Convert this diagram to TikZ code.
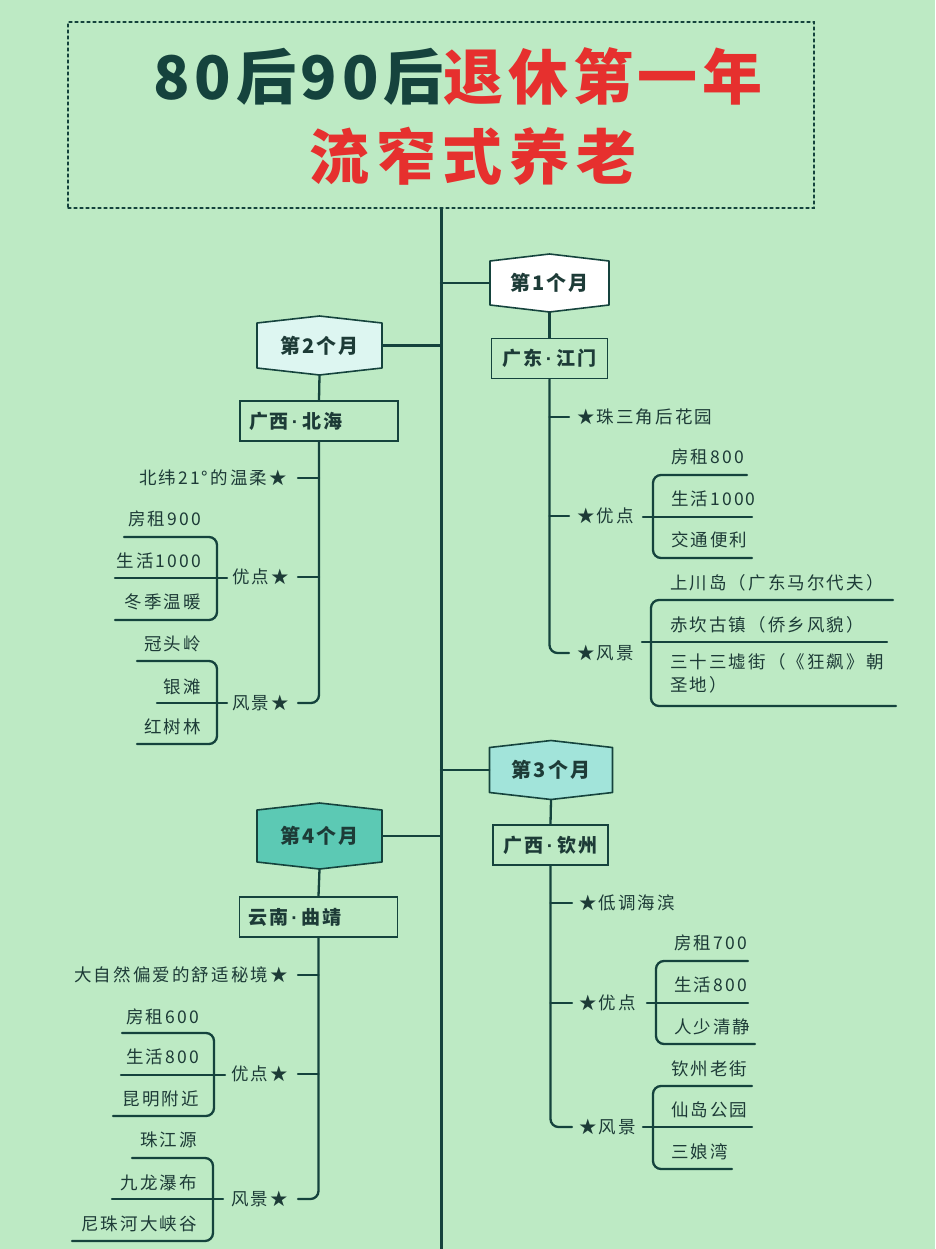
\documentclass[tikz,border=0pt]{standalone}
\usepackage{fontspec}
\usetikzlibrary{calc}
\setmainfont{Noto Sans CJK SC}
\newfontfamily\cjk{Noto Sans CJK SC}[LetterSpace=12]
\newfontfamily\cjkm{Noto Sans CJK SC}[LetterSpace=10]
\newfontfamily\cjkt{Noto Sans CJK SC}[LetterSpace=8]
\newfontfamily\cjktt{Noto Sans CJK SC}[LetterSpace=11]
\newfontfamily\latinf{Liberation Sans}
\newcommand\mdot{{\latinf\bfseries\hspace{3pt}·\hspace{4pt}}}
\definecolor{bg}{HTML}{BDEAC4}
\definecolor{ink}{HTML}{15433D}
\definecolor{txt}{HTML}{1D3B37}
\definecolor{tred}{HTML}{E6302E}
\definecolor{mA}{HTML}{FFFFFF}
\definecolor{mB}{HTML}{DDF6F1}
\definecolor{mC}{HTML}{A2E4DA}
\definecolor{mD}{HTML}{5CC9B4}
\newcommand\mhex[7]{%
  \filldraw[fill=#6, draw=ink, line width=1.6pt, line join=round]
    ({#2-#4/2},{#3-#5/2}) -- (#2,{#3-#5/2-7}) -- ({#2+#4/2},{#3-#5/2}) --
    ({#2+#4/2},{#3+#5/2}) -- (#2,{#3+#5/2+7}) -- ({#2-#4/2},{#3+#5/2}) -- cycle;
  \node[month, minimum width=#4, minimum height=#5] (#1) at (#2,#3) {#7};}
\begin{document}
\begin{tikzpicture}[x=1pt,y=-1pt, line cap=round,
  ln/.style={draw=ink, line width=2.3pt},
  item/.style={text=txt, font=\cjk\fontsize{17.5}{21}\selectfont, inner sep=0pt},
  lbl/.style={text=txt, font=\cjk\fontsize{17.5}{21}\selectfont, inner sep=0pt},
  place/.style={draw=ink, line width=1.8pt, fill=bg, minimum height=40, font=\cjkm\bfseries\fontsize{19}{22}\selectfont, text=txt},
  month/.style={font=\cjkm\bfseries\fontsize{20}{24}\selectfont, text=txt, inner sep=0pt}
]
\fill[bg] (0,0) rectangle (935,1249);
\useasboundingbox (0,0) rectangle (935,1249);

% title
\node[draw=ink, dashed, line width=1.3pt, minimum width=746, minimum height=186, inner sep=0pt] (title) at (441,115) {};
\node[font=\cjkt\bfseries\fontsize{60}{64}\selectfont, inner sep=0pt] (t1) at (458,76) {\textcolor{ink}{80后90后}\textcolor{tred}{退休第一年}};
\node[font=\cjktt\bfseries\fontsize{60}{64}\selectfont, text=tred, inner sep=0pt] (t2) at (473,156) {流窄式养老};

% main spine
\coordinate (bot) at (441,1249);
\draw[draw=ink, line width=3pt, line cap=butt] (title.south) -- (bot);

% months
\mhex{m1}{549.5}{283}{119}{44}{mA}{第1个月}
\mhex{m2}{319.5}{345.5}{125}{45}{mB}{第2个月}
\mhex{m3}{551}{770}{123}{45}{mC}{第3个月}
\mhex{m4}{319.5}{836}{125}{52}{mD}{第4个月}
\draw[ln] (m1.west) -- (m1.west -| title.south);
\draw[ln] (m2.east) -- (m2.east -| title.south);
\draw[ln] (m3.west) -- (m3.west -| title.south);
\draw[ln] (m4.east) -- (m4.east -| title.south);

% places
\node[place, minimum width=116] (p1) at (549.5,358.5) {广东\mdot 江门};
\node[place, minimum width=158, text width=140, inner xsep=9, align=left] (p2) at (319,421) {广西\mdot 北海};
\node[place, minimum width=115] (p3) at (550.5,845) {广西\mdot 钦州};
\node[place, minimum width=158, text width=140, inner xsep=9, align=left] (p4) at (318.5,917) {云南\mdot 曲靖};
\draw[ln] ($(m1.south)+(0,7)$) -- (p1.north);
\draw[ln] ($(m2.south)+(0,7)$) -- (p2.north);
\draw[ln] ($(m3.south)+(0,7)$) -- (p3.north);
\draw[ln] ($(m4.south)+(0,7)$) -- (p4.north);

% ---------- branch 1 (right, 江门)
\draw[ln, rounded corners=8] (p1.south) |- (569,653);
\draw[ln] (549.5,417) -- (569,417);
\draw[ln] (549.5,516) -- (569,516);
\node[lbl, anchor=west] (a1) at (577,417) {★珠三角后花园};
\node[lbl, anchor=west] (a2) at (577,516) {★优点};
\node[lbl, anchor=west] (a3) at (577,653) {★风景};
\draw[ln, rounded corners=8] (747,475) -- (653,475) -- (653,558) -- (752,558);
\draw[ln] (643,517) -- (752,517);
\node[item, anchor=west] (a21) at (671,457) {房租800};
\node[item, anchor=west] (a22) at (671,499) {生活1000};
\node[item, anchor=west] (a23) at (671,540) {交通便利};
\draw[ln, rounded corners=8] (893,600) -- (651,600) -- (651,706) -- (896,706);
\draw[ln] (642,642) -- (887,642);
\node[item, anchor=west] (a31) at (670,583) {上川岛（广东马尔代夫）};
\node[item, anchor=west] (a32) at (670,625) {赤坎古镇（侨乡风貌）};
\node[item, anchor=north west, align=left] (a33) at (670,653) {三十三墟街（《狂飙》朝\\[2pt]圣地）};

% ---------- branch 3 (right, 钦州)
\draw[ln, rounded corners=8] (p3.south) |- (572,1127);
\draw[ln] (550.5,903) -- (572,903);
\draw[ln] (550.5,1003) -- (572,1003);
\node[lbl, anchor=west] (c1) at (579,903) {★低调海滨};
\node[lbl, anchor=west] (c2) at (579,1003) {★优点};
\node[lbl, anchor=west] (c3) at (579,1127) {★风景};
\draw[ln, rounded corners=8] (748,961) -- (656,961) -- (656,1044) -- (755,1044);
\draw[ln] (647,1003) -- (748,1003);
\node[item, anchor=west] (c21) at (674,943) {房租700};
\node[item, anchor=west] (c22) at (674,985) {生活800};
\node[item, anchor=west] (c23) at (674,1027) {人少清静};
\draw[ln, rounded corners=8] (752,1086) -- (653,1086) -- (653,1169) -- (732,1169);
\draw[ln] (643,1127) -- (752,1127);
\node[item, anchor=west] (c31) at (671,1069) {钦州老街};
\node[item, anchor=west] (c32) at (671,1110) {仙岛公园};
\node[item, anchor=west] (c33) at (671,1152) {三娘湾};

% ---------- branch 2 (left, 北海)
\draw[ln, rounded corners=8] (p2.south) |- (298,703);
\draw[ln] (319,478) -- (298,478);
\draw[ln] (319,577) -- (298,577);
\node[lbl, anchor=east] (b1) at (287,478) {北纬21°的温柔★};
\node[lbl, anchor=east] (b2) at (289,577) {优点★};
\node[lbl, anchor=east] (b3) at (289,703) {风景★};
\draw[ln, rounded corners=8] (124,537) -- (217,537) -- (217,620) -- (115,620);
\draw[ln] (115,578) -- (227,578);
\node[item, anchor=east] (b21) at (201,519) {房租900};
\node[item, anchor=east] (b22) at (201,561) {生活1000};
\node[item, anchor=east] (b23) at (201,602) {冬季温暖};
\draw[ln, rounded corners=8] (137,661) -- (217,661) -- (217,744) -- (137,744);
\draw[ln] (157,703) -- (227,703);
\node[item, anchor=east] (b31) at (201,644) {冠头岭};
\node[item, anchor=east] (b32) at (201,687) {银滩};
\node[item, anchor=east] (b33) at (201,727) {红树林};

% ---------- branch 4 (left, 曲靖)
\draw[ln, rounded corners=8] (p4.south) |- (298,1199);
\draw[ln] (318.5,975) -- (298,975);
\draw[ln] (318.5,1074) -- (298,1074);
\node[lbl, anchor=east] (d1) at (288,975) {大自然偏爱的舒适秘境★};
\node[lbl, anchor=east] (d2) at (288,1074) {优点★};
\node[lbl, anchor=east] (d3) at (288,1199) {风景★};
\draw[ln, rounded corners=8] (122,1033) -- (214,1033) -- (214,1116) -- (113,1116);
\draw[ln] (121,1075) -- (225,1075);
\node[item, anchor=east] (d21) at (199,1017) {房租600};
\node[item, anchor=east] (d22) at (199,1057) {生活800};
\node[item, anchor=east] (d23) at (199,1099) {昆明附近};
\draw[ln, rounded corners=8] (132,1158) -- (213,1158) -- (213,1241) -- (72,1241);
\draw[ln] (112,1199) -- (223,1199);
\node[item, anchor=east] (d31) at (197,1140) {珠江源};
\node[item, anchor=east] (d32) at (197,1183) {九龙瀑布};
\node[item, anchor=east] (d33) at (197,1224) {尼珠河大峡谷};
\end{tikzpicture}
\end{document}
